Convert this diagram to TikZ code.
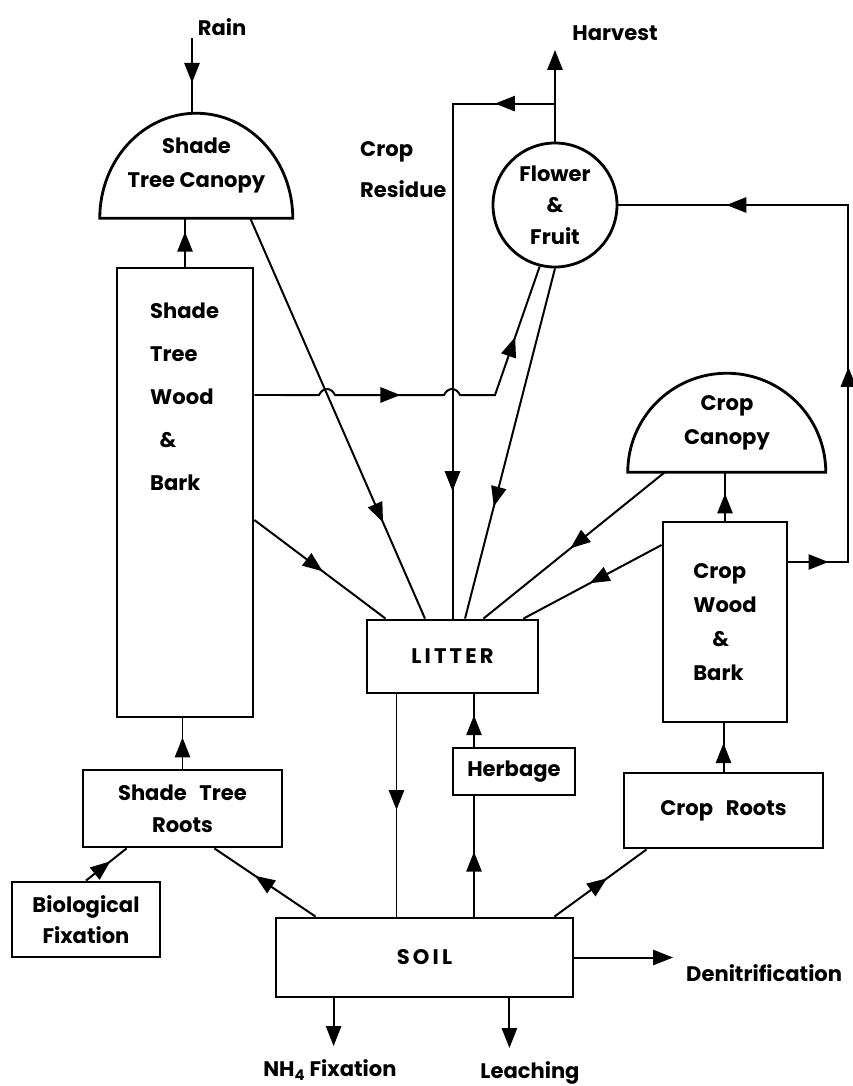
\documentclass[tikz,border=0pt]{standalone}
\usepackage{fontspec}
\setmainfont{Poppins}
\usetikzlibrary{arrows.meta,decorations.markings}

\begin{document}
\begin{tikzpicture}[
  x=0.03cm, y=-0.03cm,
  wall/.style={draw, line width=2.4pt},
  tag/.style={font=\fontsize{18}{27}\selectfont\bfseries, align=center, inner sep=0pt},
  box/.style={wall, tag},
  flow/.style={line width=1.7pt},
  flowat/.style={flow, postaction={decorate, decoration={markings,
    mark=at position #1 with {\arrow{Triangle[length=17pt,width=13pt]}}}}},
  flowend/.style={flow, -{Triangle[length=17pt,width=13pt]}}
]
\path[use as bounding box, fill=white] (0,0) rectangle (853,1086);

% canopies and fruit
\node[tag, font=\fontsize{18}{29}\selectfont\bfseries, minimum width=5.79cm, minimum height=3.15cm] (canopyS) at (196.5,165.5) {Shade\\Tree Canopy};
\draw[wall] (canopyS.south west) arc[start angle=180, end angle=0, x radius=2.895cm, y radius=3.15cm] -- cycle;
\node[tag, font=\fontsize{18}{29}\selectfont\bfseries, minimum width=5.94cm, minimum height=2.97cm] (canopyC) at (727,422.5) {Crop\\Canopy};
\draw[wall] (canopyC.south west) arc[start angle=180, end angle=0, x radius=2.97cm, y radius=2.97cm] -- cycle;
\node[box, circle, minimum size=3.72cm] (fruit) at (555,205) {Flower\\\&\\Fruit};

% compartments
\node[box, minimum width=4.08cm, minimum height=13.47cm] (woodS) at (185,492.5) {};
\node[tag, font=\fontsize{18}{36.7}\selectfont\bfseries, align=left, anchor=west] (woodSlabel) at (150,397) {Shade\\Tree\\Wood\\\hspace{0.45em}\&\\Bark};
\node[box, minimum width=5.97cm, minimum height=2.31cm] (rootsS) at (182.5,808.5) {Shade\hspace{0.6em}Tree\\Roots};
\node[box, minimum width=4.44cm, minimum height=2.25cm] (bio) at (86,919.5) {Biological\\Fixation};
\node[box, minimum width=5.13cm, minimum height=2.19cm] (litter) at (452.5,656.5) {\addfontfeature{LetterSpace=15}LITTER};
\node[box, minimum width=3.66cm, minimum height=1.41cm] (herb) at (514,771.5) {Herbage};
\node[box, minimum width=8.91cm, minimum height=2.37cm] (soil) at (424.5,957.5) {\addfontfeature{LetterSpace=15}SOIL};
\node[box, minimum width=5.97cm, minimum height=2.25cm] (rootsC) at (723.5,810.5) {Crop\hspace{0.6em}Roots};
\node[box, font=\fontsize{18}{29}\selectfont\bfseries, align=left, minimum width=3.72cm, minimum height=6cm] (woodC) at (725,622) {Crop\\Wood\\\hspace{0.9em}\&\\Bark};

% free labels
\node[tag] (rain) at (222,27) {Rain};
\node[tag] (harvest) at (615,33) {Harvest};
\node[tag, font=\fontsize{18}{35}\selectfont\bfseries, align=left, anchor=west] (residue) at (360,170) {Crop\\Residue};
\node[tag, anchor=west] (denit) at (686,973) {Denitrification};
\node[tag] (nhfix) at (330,1070) {NH\textsubscript{4} Fixation};
\node[tag] (leach) at (530,1073) {Leaching};

\coordinate (rainend) at (192,38);
\coordinate (harvend) at (555,50);
\coordinate (nhend) at (335,1046);
\coordinate (leachend) at (508,1048);
\coordinate (denitend) at (673,957.5);
\coordinate (split) at ([yshift=1.14cm]fruit.north);

% uptake and growth
\draw[flowat=0.6] (rainend) -- (rainend |- canopyS.north);
\draw[flowat=0.72] (woodS.north) -- (woodS.north |- canopyS.south);
\draw[flowat=0.62] (rootsS.north) -- (rootsS.north |- woodS.south);
\draw[flowat=0.6] (bio.north) -- ([xshift=1.35cm]rootsS.south west);
\draw[flowat=0.6] ([xshift=1.23cm]soil.north west) -- ([xshift=-2.07cm]rootsS.south east);
\draw[flowat=0.57] ([xshift=-0.6cm]soil.north east) -- ([xshift=0.72cm]rootsC.south west);
\draw[flowat=0.59] (rootsC.north) -- (rootsC.north |- woodC.south);
\draw[flowat=0.56] (woodC.north) -- (woodC.north |- canopyC.south);
\draw[flowat=0.54] ([xshift=-1.2cm]herb.south |- soil.north) -- ([xshift=-1.2cm]herb.south);
\draw[flowat=0.6] ([xshift=-1.2cm]herb.north) -- ([xshift=-1.2cm]herb.north |- litter.south);

% to the fruit
\draw[flowat=4.53cm, flowat=9.36cm] ([yshift=2.925cm]woodS.east) -- (319,395)
  .. controls (323,387) and (331,387) .. (335,395) -- (444,395)
  .. controls (448,387) and (456,387) .. (460,395) -- (495,395) -- (fruit.-104);
\draw[flowat=1.2cm, flowat=7.65cm, flowat=16.17cm] ([yshift=1.8cm]woodC.east) -- ++(60,0) |- (fruit.east);
\draw[flowend] (fruit.north) -- (harvend);
\draw[flowat=1.8cm, flowat=14.7cm] (split) -- (split -| litter.north) -- (litter.north);

% litter fall
\draw[flowat=0.52] ([yshift=-0.825cm]woodS.east) -- ([xshift=0.6cm]litter.north west);
\draw[flowat=0.76] ([xshift=-1.29cm]canopyS.south east) -- ([xshift=-0.825cm]litter.north);
\draw[flowat=0.68] (fruit.south) -- ([xshift=0.375cm]litter.north);
\draw[flowat=0.52] ([xshift=1.11cm]canopyC.south west) -- ([xshift=-1.68cm]litter.north east);
\draw[flowat=0.52] ([yshift=2.31cm]woodC.west) -- ([xshift=-0.48cm]litter.north east);
\draw[flowat=0.52] ([xshift=-1.68cm]litter.south) -- ([xshift=-1.68cm]litter.south |- soil.north);

% losses
\draw[flowend] ([xshift=1.77cm]soil.south west) -- ([xshift=1.77cm]soil.south west |- nhend);
\draw[flowend] ([xshift=-1.95cm]soil.south east) -- ([xshift=-1.95cm]soil.south east |- leachend);
\draw[flowend] (soil.east) -- (denitend);
\end{tikzpicture}
\end{document}
